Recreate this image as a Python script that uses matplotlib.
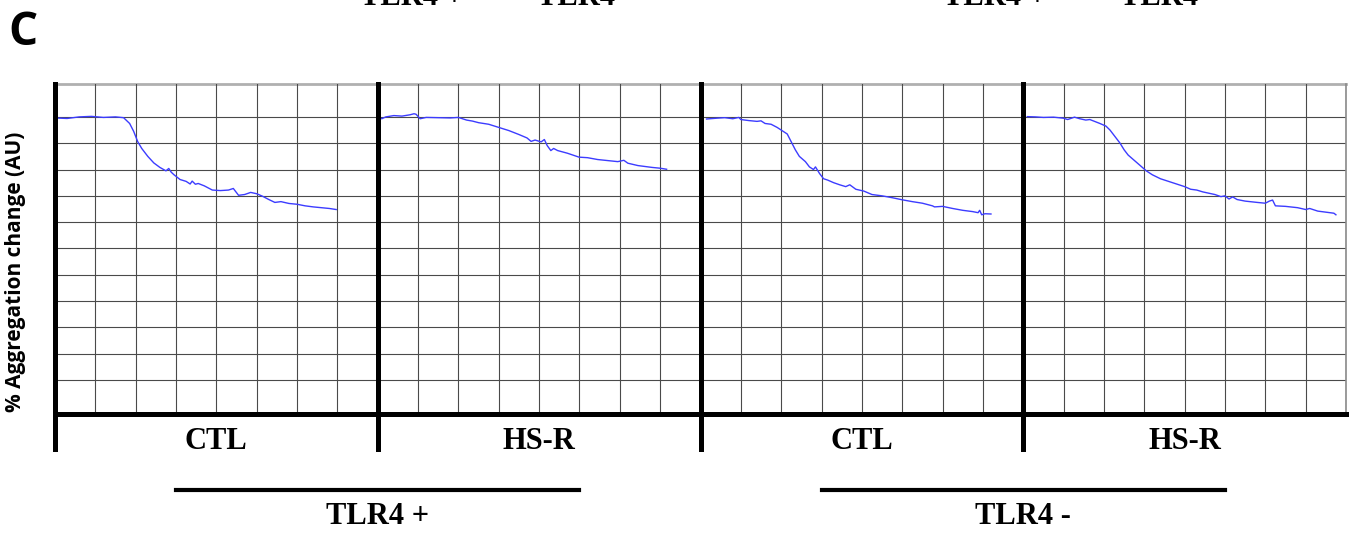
import matplotlib

matplotlib.use("Agg")
import matplotlib.pyplot as plt

# aggregation traces, x in grid columns (8 per panel), y in grid rows
ctl_pos_x = [0.0, 0.3, 0.6, 0.9, 1.2, 1.5, 1.7, 1.85, 1.95, 2.05, 2.15, 2.3, 2.45, 2.6, 2.75,
             2.82, 2.88, 2.95, 3.1, 3.25, 3.35, 3.4, 3.48, 3.55, 3.7, 3.9, 4.1, 4.3, 4.42, 4.55,
             4.7, 4.85, 5.0, 5.15, 5.3, 5.45, 5.6, 5.8, 6.0, 6.2, 6.4, 6.6, 6.8, 6.97]
ctl_pos_y = [9.96, 9.94, 10.0, 10.02, 9.98, 10.0, 9.97, 9.75, 9.45, 9.06, 8.8, 8.5, 8.25, 8.08, 7.95,
             8.04, 7.9, 7.8, 7.62, 7.55, 7.45, 7.56, 7.44, 7.47, 7.38, 7.22, 7.2, 7.22, 7.28, 7.02,
             7.05, 7.13, 7.08, 6.98, 6.86, 6.75, 6.78, 6.71, 6.68, 6.62, 6.58, 6.55, 6.52, 6.48]

hsr_pos_x = [0.0, 0.1, 0.2, 0.4, 0.6, 0.8, 0.9, 0.95, 1.05, 1.2, 1.5, 1.8, 2.0, 2.2, 2.35, 2.5,
             2.75, 3.0, 3.25, 3.5, 3.7, 3.8, 3.9, 4.05, 4.13, 4.2, 4.29, 4.36, 4.46, 4.7, 4.99,
             5.2, 5.45, 5.7, 5.95, 6.1, 6.2, 6.45, 6.8, 7.0, 7.16]
hsr_pos_y = [9.99, 9.93, 10.0, 10.05, 10.03, 10.08, 10.12, 10.1, 9.93, 9.98, 9.97, 9.96, 9.98, 9.88,
             9.84, 9.78, 9.72, 9.6, 9.48, 9.33, 9.2, 9.07, 9.12, 9.05, 9.14, 8.91, 8.72, 8.8, 8.72,
             8.62, 8.47, 8.45, 8.38, 8.34, 8.3, 8.35, 8.24, 8.15, 8.08, 8.05, 8.01]

ctl_neg_x = [0.15, 0.4, 0.6, 0.8, 0.95, 1.0, 1.2, 1.4, 1.5, 1.6, 1.75, 1.9, 2.05, 2.15, 2.25,
             2.35, 2.45, 2.6, 2.7, 2.8, 2.85, 2.95, 3.05, 3.15, 3.3, 3.45, 3.6, 3.7, 3.85, 4.05,
             4.25, 4.5, 4.75, 5.0, 5.25, 5.5, 5.75, 5.8, 6.0, 6.25, 6.5, 6.75, 6.88, 6.92, 6.97,
             7.05, 7.2]
ctl_neg_y = [9.92, 9.95, 9.97, 9.93, 9.98, 9.9, 9.86, 9.83, 9.85, 9.75, 9.72, 9.6, 9.45, 9.35, 9.05,
             8.75, 8.5, 8.3, 8.1, 8.0, 8.1, 7.85, 7.65, 7.6, 7.5, 7.42, 7.35, 7.42, 7.25, 7.18,
             7.05, 7.0, 6.93, 6.85, 6.78, 6.72, 6.62, 6.58, 6.6, 6.52, 6.45, 6.4, 6.36, 6.45, 6.28,
             6.32, 6.31]

hsr_neg_x = [0.1, 0.3, 0.5, 0.75, 1.0, 1.1, 1.27, 1.4, 1.55, 1.65, 1.75, 1.9, 2.05, 2.15, 2.25,
             2.4, 2.5, 2.6, 2.75, 2.9, 3.05, 3.2, 3.4, 3.6, 3.8, 4.0, 4.15, 4.3, 4.45, 4.6, 4.75,
             4.9, 5.0, 5.1, 5.19, 5.3, 5.5, 5.8, 6.0, 6.1, 6.18, 6.25, 6.5, 6.8, 7.0, 7.1, 7.3,
             7.5, 7.7, 7.75]
hsr_neg_y = [10.01, 10.0, 9.98, 9.99, 9.95, 9.9, 9.99, 9.93, 9.88, 9.9, 9.84, 9.75, 9.65, 9.5, 9.3,
             9.0, 8.75, 8.55, 8.35, 8.15, 7.95, 7.8, 7.65, 7.55, 7.45, 7.35, 7.25, 7.22, 7.15, 7.1,
             7.05, 6.97, 7.0, 6.88, 6.96, 6.86, 6.8, 6.75, 6.72, 6.8, 6.84, 6.62, 6.6, 6.55, 6.48,
             6.52, 6.42, 6.38, 6.34, 6.28]

traces = [(ctl_pos_x, ctl_pos_y), (hsr_pos_x, hsr_pos_y), (ctl_neg_x, ctl_neg_y), (hsr_neg_x, hsr_neg_y)]
panel_labels = ["CTL", "HS-R", "CTL", "HS-R"]
group_labels = ["TLR4 +", "TLR4 -"]

cols_per_panel = 8
n_rows = 10
y_bottom = -1.29
y_top = 11.25

fig = plt.figure(figsize=(13.55, 5.4), dpi=100)
ax = fig.add_axes([55 / 1355, 126 / 540, 1291 / 1355, 330 / 540])
ax.set_xlim(0, cols_per_panel * 4)
ax.set_ylim(y_bottom, y_top)
for s in ax.spines.values():
    s.set_visible(False)
ax.set_xticks([])
ax.set_yticks([])

# grid paper
for r in range(n_rows + 1):
    ax.axhline(r, color="#4a4a4a", lw=0.8, zorder=1)
ax.axhline(y_top, color="#b0b0b0", lw=2, zorder=1, clip_on=False)
for c in range(cols_per_panel * 4 + 1):
    ax.axvline(c, color="#4a4a4a", lw=0.8, zorder=1)
ax.axvline(cols_per_panel * 4, color="#8a8a8a", lw=1.2, zorder=1, clip_on=False)

# panel dividers and base line
for i in range(4):
    ax.axvline(i * cols_per_panel, ymin=-0.106, ymax=1.0, color="black", lw=3.6,
               zorder=3, clip_on=False)
ax.axhline(y_bottom, xmax=1.0, color="black", lw=3.6, zorder=3, clip_on=False)

for i, (tx, ty) in enumerate(traces):
    ax.plot([i * cols_per_panel + v for v in tx], ty, color="#3c3cff", lw=1.0, zorder=2)
    ax.text(i * cols_per_panel + cols_per_panel / 2, -2.32, panel_labels[i], ha="center",
            va="center", fontsize=22, fontweight="bold", family="Liberation Serif")

# group bars
for j, lab in enumerate(group_labels):
    mid = cols_per_panel * (2 * j + 1)
    ax.plot([mid - 5, mid + 5], [-4.18, -4.18], color="black", lw=3, clip_on=False)
    ax.text(mid, -5.2, lab, ha="center", va="center", fontsize=22, fontweight="bold",
            family="Liberation Serif")

fig.text(16 / 1355, 1 - 272 / 540, "% Aggregation change (AU)", rotation=90, ha="center",
         va="center", fontsize=15, fontweight="bold", family="Open Sans")
fig.text(8 / 1355, 1 - 9 / 540, "C", ha="left", va="top", fontsize=33, fontweight="bold",
         family="Open Sans")

# labels of the panel above, cut by the crop
for x0, lab in [(360, "TLR4 +"), (537, "TLR4 -"), (943, "TLR4 +"), (1120, "TLR4 -")]:
    fig.text(x0 / 1355, 1 - 5 / 540, lab, ha="left", va="baseline", fontsize=22,
             fontweight="bold", family="Liberation Serif")

fig.savefig("out.png", dpi=100, facecolor="white")
